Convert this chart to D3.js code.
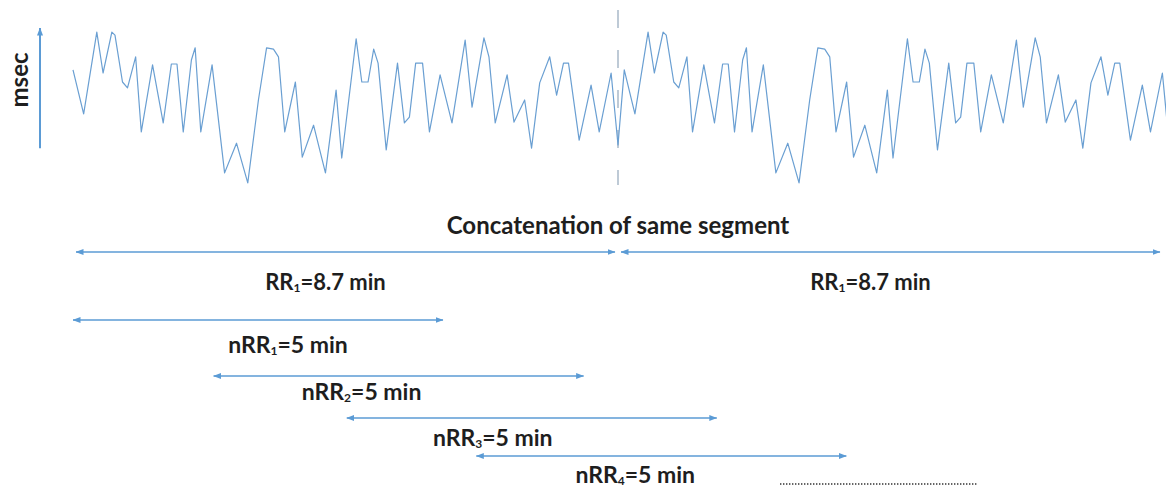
<!DOCTYPE html>
<html>
<head>
<meta charset="utf-8">
<script src="https://cdn.jsdelivr.net/npm/d3@7"></script>
<style>
  body { margin: 0; background: #fff; }
  svg text { font-family: Lato, "Open Sans", sans-serif; font-weight: bold; fill: #1e1e1e; }
</style>
</head>
<body>
<svg id="chart"></svg>
<script>
// one RR segment (time in min, RR in msec)
const rrTime = [0.00, 0.17, 0.38, 0.48, 0.62, 0.67, 0.79, 0.87, 1.00, 1.09, 1.27, 1.44, 1.57, 1.66,
  1.76, 1.89, 1.95, 2.04, 2.22, 2.42, 2.61, 2.79, 2.96, 3.09, 3.20, 3.28, 3.38, 3.55, 3.66, 3.84,
  4.03, 4.20, 4.29, 4.52, 4.61, 4.71, 4.80, 4.87, 5.00, 5.18, 5.29, 5.37, 5.47, 5.58, 5.69, 5.86,
  6.05, 6.26, 6.37, 6.56, 6.64, 6.74, 6.93, 7.04, 7.21, 7.32, 7.45, 7.61, 7.72, 7.83, 7.91, 8.08,
  8.27, 8.40, 8.59, 8.70];
const rrMsec = [907, 809, 991, 900, 991, 984, 880, 867, 936, 769, 918, 789, 920, 920,
  769, 929, 956, 769, 918, 678, 744, 656, 840, 956, 953, 936, 769, 880, 713, 784,
  678, 862, 711, 976, 880, 880, 953, 922, 729, 922, 789, 802, 922, 922, 769, 896,
  789, 973, 824, 978, 936, 789, 896, 791, 840, 733, 878, 936, 851, 922, 922, 751,
  873, 769, 900, 740];
const segmentMinutes = 8.7;
const repeatPeriod = 8.8;   // the same segment is appended after itself

// whole-segment spans
const rrNames = ["RR", "RR"];
const rrIndex = [1, 1];
const rrMinutes = [8.7, 8.7];

// sliding 5-min windows
const nrrNames = ["nRR", "nRR", "nRR", "nRR"];
const nrrIndex = [1, 2, 3, 4];
const nrrStart = [0, 1.9, 3.7, 5.45];
const nrrMinutes = [5, 5, 5, 5];

const title = "Concatenation of same segment";

// layout
const width = 1166, height = 492;
const blue = "#5b9bd5";
const rrArrowY = 252, rrLabelY = 290, rrLabelShift = -20;
const nrrArrowY = [320, 376, 418, 456];
const nrrLabelY = [353, 400, 446, 483];
const nrrLabelShift = [30, -37, -39, -26];

const svg = d3.select("#chart")
    .attr("width", width)
    .attr("height", height);

const defs = svg.append("defs");
defs.append("marker")
    .attr("id", "head")
    .attr("viewBox", "0 0 8 6")
    .attr("refX", 7.5)
    .attr("refY", 3)
    .attr("markerWidth", 8)
    .attr("markerHeight", 6)
    .attr("markerUnits", "userSpaceOnUse")
    .attr("orient", "auto-start-reverse")
    .append("path")
    .attr("d", "M0,0 L8,3 L0,6 Z")
    .attr("fill", blue);

// scales
const x = d3.scaleLinear().domain([0, 2 * segmentMinutes]).range([73, 1163]);
const y = d3.scaleLinear().domain([600, 1000]).range([208, 28]);
const xWin = d3.scaleLinear().domain([0, 5]).range([73, 443]);

// concatenated trace
const trace = [0, 1].flatMap(k => rrTime.map((t, i) => ({t: t + k * repeatPeriod, v: rrMsec[i]})));

// segment boundary
svg.append("line")
    .attr("x1", x(segmentMinutes))
    .attr("x2", x(segmentMinutes))
    .attr("y1", 10)
    .attr("y2", 185)
    .attr("stroke", "#a9b9c9")
    .attr("stroke-width", 1.5)
    .attr("stroke-dasharray", "18,22");

svg.append("path")
    .datum(trace)
    .attr("d", d3.line().x(d => x(d.t)).y(d => y(d.v)))
    .attr("fill", "none")
    .attr("stroke", "#6a9fd2")
    .attr("stroke-width", 1.2)
    .attr("stroke-linejoin", "round");

// y axis arrow + label
svg.append("line")
    .attr("x1", 40).attr("x2", 40)
    .attr("y1", y(733)).attr("y2", y(1000))
    .attr("stroke", blue)
    .attr("stroke-width", 2)
    .attr("marker-end", "url(#head)");

svg.append("text")
    .attr("transform", "translate(28,80) rotate(-90)")
    .attr("text-anchor", "middle")
    .style("font-size", "24px")
    .text("msec");

svg.append("text")
    .attr("x", x(segmentMinutes))
    .attr("y", 234)
    .attr("text-anchor", "middle")
    .style("font-size", "24px")
    .text(title);

function label(sel, name, idx, rest) {
    sel.append("tspan").text(name);
    sel.append("tspan").attr("dy", 2).style("font-size", "12px").text(idx);
    sel.append("tspan").attr("dy", -2).text(rest);
}

function arrow(x1, x2, yy) {
    svg.append("line")
        .attr("x1", x1).attr("x2", x2)
        .attr("y1", yy).attr("y2", yy)
        .attr("stroke", blue)
        .attr("stroke-width", 1.6)
        .attr("marker-start", "url(#head)")
        .attr("marker-end", "url(#head)");
}

// RR spans
rrNames.forEach((name, i) => {
    const a = i * segmentMinutes, b = a + rrMinutes[i];
    arrow(x(a) + 3, x(b) - 3, rrArrowY);
    svg.append("text")
        .attr("x", (x(a) + x(b)) / 2 + rrLabelShift)
        .attr("y", rrLabelY)
        .attr("text-anchor", "middle")
        .style("font-size", "22px")
        .call(label, name, rrIndex[i], `=${rrMinutes[i]} min`);
});

// nRR windows
nrrNames.forEach((name, i) => {
    const a = xWin(nrrStart[i]), b = xWin(nrrStart[i] + nrrMinutes[i]);
    arrow(a, b, nrrArrowY[i]);
    svg.append("text")
        .attr("x", (a + b) / 2 + nrrLabelShift[i])
        .attr("y", nrrLabelY[i])
        .attr("text-anchor", "middle")
        .style("font-size", "23px")
        .call(label, name, nrrIndex[i], `=${nrrMinutes[i]} min`);
});

// "and so on"
svg.append("line")
    .attr("x1", 780).attr("x2", 978)
    .attr("y1", 484).attr("y2", 484)
    .attr("stroke", "#333")
    .attr("stroke-width", 1.6)
    .attr("stroke-dasharray", "1.4,1.6");
</script>
</body>
</html>
